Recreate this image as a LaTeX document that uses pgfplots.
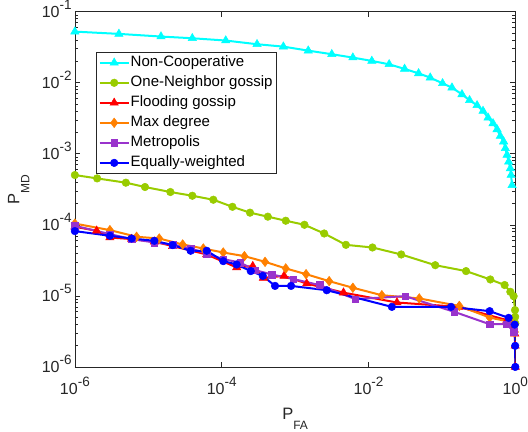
\documentclass[border=0pt]{standalone}
\usepackage{fontspec}
\setmainfont{Liberation Sans}
\usepackage{pgfplots}
\pgfplotsset{compat=1.18}
\definecolor{cNC}{rgb}{0,1,1}
\definecolor{cON}{rgb}{0.6,0.8,0.0}
\definecolor{cFL}{rgb}{1,0,0}
\definecolor{cMD}{rgb}{1,0.5,0}
\definecolor{cME}{rgb}{0.6,0.2,0.8}
\definecolor{cEW}{rgb}{0,0,1}
\definecolor{axgray}{rgb}{0.15,0.15,0.15}
\newcommand{\tl}[1]{10\raisebox{8pt}{\fontsize{13.5}{14}\selectfont #1}}
\begin{document}
\begin{tikzpicture}
\begin{axis}[
  scale only axis, width=440pt, height=355pt,
  xmode=log, ymode=log, log basis x=10, log basis y=10,
  xmin=1e-6, xmax=1, ymin=1e-6, ymax=1e-1,
  xtick={1e-6,1e-4,1e-2,1},
  xticklabels={\tl{-6},\tl{-4},\tl{-2},\tl{0}},
  ytick={1e-6,1e-5,1e-4,1e-3,1e-2,1e-1},
  yticklabels={\tl{-6},\tl{-5},\tl{-4},\tl{-3},\tl{-2},\tl{-1}},
  xminorticks=false,
  minor ytick={2e-6,3e-6,4e-6,5e-6,6e-6,7e-6,8e-6,9e-6,
               2e-5,3e-5,4e-5,5e-5,6e-5,7e-5,8e-5,9e-5,
               2e-4,3e-4,4e-4,5e-4,6e-4,7e-4,8e-4,9e-4,
               2e-3,3e-3,4e-3,5e-3,6e-3,7e-3,8e-3,9e-3,
               2e-2,3e-2,4e-2,5e-2,6e-2,7e-2,8e-2,9e-2},
  tick align=inside, major tick length=5pt, minor tick length=3pt,
  axis line style={axgray, line width=0.6pt},
  every tick/.style={axgray, line width=0.5pt},
  tick label style={font=\fontsize{16}{18}\selectfont, text=axgray},
  yticklabel style={anchor=base east, inner sep=0pt, xshift=-3pt, yshift=-5.75pt},
  xticklabel style={anchor=north, inner sep=0pt, yshift=-10pt},
  xlabel={P\raisebox{-10pt}{\fontsize{12}{12}\selectfont FA}},
  ylabel={P\raisebox{-10pt}{\fontsize{12}{12}\selectfont MD}},
  label style={font=\fontsize{16.5}{18}\selectfont, text=axgray},
  xlabel style={at={([yshift=-38pt]axis description cs:0.5,0)}, anchor=north, inner sep=0pt, inner ysep=2.5pt},
  ylabel style={at={([xshift=-75pt]axis description cs:0,0.5)}, anchor=north, rotate=0, inner sep=0pt, inner ysep=8pt},
  legend style={at={(0.0477,0.887)}, anchor=north west, draw=axgray, line width=0.6pt,
    font=\fontsize{15}{16}\selectfont, cells={anchor=west},
    nodes={inner sep=1pt, text height=11pt, text depth=3.5pt},
    inner sep=2.5pt, row sep=3.5pt, column sep=0pt},
  legend image code/.code={\draw[mark repeat=2,mark phase=2,#1] plot coordinates {(0pt,0pt) (14.5pt,0pt) (29pt,0pt)};},
  every axis plot/.append style={line width=2pt},
]
% Non-Cooperative
\addplot[color=cNC, mark=triangle*, mark size=4.8pt, mark options={solid, line width=0.5pt}] coordinates {
(1e-6,0.0522) (3.98e-6,0.0485) (1.49e-5,0.0445) (3.98e-5,0.0421) (1.135e-4,0.0391)
(3.03e-4,0.0347) (6.92e-4,0.0321) (1.51e-3,0.0282) (3.16e-3,0.0251) (6.12e-3,0.0225)
(0.0111,0.0202) (0.0191,0.0181) (0.031,0.0156) (0.0481,0.0135) (0.0693,0.01175)
(0.102,0.00977) (0.137,0.00851) (0.1875,0.00684) (0.238,0.00564) (0.301,0.00479)
(0.363,0.00399) (0.425,0.00321) (0.497,0.00267) (0.564,0.0022) (0.624,0.00177)
(0.693,0.00148) (0.731,0.00119) (0.771,9.6e-4) (0.811,7.7e-4) (0.855,6.2e-4)
(0.875,5.0e-4) (0.902,3.6e-4)
};
\addlegendentry{Non-Cooperative}
% One-Neighbor gossip
\addplot[color=cON, mark=*, mark size=3.8pt, mark options={line width=0.5pt}] coordinates {
(1e-6,5.01e-4) (2.01e-6,4.49e-4) (4.95e-6,3.91e-4) (9.02e-6,3.40e-4) (2.0e-5,2.89e-4)
(3.98e-5,2.56e-4) (7.69e-5,2.25e-4) (1.40e-4,1.79e-4) (2.43e-4,1.48e-4) (4.25e-4,1.30e-4)
(7.46e-4,1.14e-4) (1.34e-3,1.0e-4) (2.49e-3,7.54e-5) (4.92e-3,5.22e-5) (0.01132,4.79e-5)
(0.0279,3.82e-5) (0.0811,2.70e-5) (0.213,2.23e-5) (0.456,1.70e-5) (0.715,1.42e-5)
(0.855,1.14e-5) (0.948,9.9e-6) (0.99,6.3e-6) (0.995,5.06e-6) (0.998,4.1e-6)
};
\addlegendentry{One-Neighbor gossip}
% Flooding gossip
\addplot[color=cFL, mark=triangle*, mark size=4.8pt, mark options={line width=0.5pt}] coordinates {
(1e-6,9.38e-5) (1.98e-6,8.23e-5) (3.0e-6,6.62e-5) (5.93e-6,6.29e-5) (1.21e-5,5.77e-5)
(2.15e-5,5.01e-5) (6.25e-5,3.82e-5) (1.60e-4,2.51e-5) (2.65e-4,2.62e-5) (3.70e-4,1.79e-5)
(7.08e-4,1.91e-5) (1.44e-3,1.49e-5) (4.56e-3,1.11e-5) (0.0244,8.06e-6) (0.169,7.0e-6)
(0.771,4.55e-6) (0.98,2.94e-6) (0.995,1.98e-6) (0.999,1.0e-6)
};
\addlegendentry{Flooding gossip}
% Max degree
\addplot[color=cMD, mark=diamond*, mark size=4.8pt, mark options={line width=0.5pt}] coordinates {
(1e-6,1.04e-4) (3.0e-6,8.41e-5) (6.93e-6,6.78e-5) (1.41e-5,6.41e-5) (2.94e-5,5.28e-5)
(5.62e-5,4.64e-5) (1.05e-4,4.07e-5) (2.04e-4,3.62e-5) (3.90e-4,3.01e-5) (7.46e-4,2.43e-5)
(1.41e-3,2.02e-5) (2.91e-3,1.61e-5) (6.12e-3,1.30e-5) (0.0152,1.02e-5) (0.0491,9.2e-6)
(0.173,7.2e-6) (0.447,4.95e-6) (0.855,4.3e-6) (0.985,3.1e-6)
};
\addlegendentry{Max degree}
% Metropolis
\addplot[color=cME, mark=square*, mark size=3.3pt, mark options={line width=0.5pt}] coordinates {
(1e-6,9.68e-5) (3.0e-6,7.39e-5) (5.93e-6,6.29e-5) (1.21e-5,5.64e-5) (2.15e-5,5.28e-5)
(3.78e-5,4.64e-5) (6.25e-5,3.94e-5) (1.05e-4,3.29e-5) (1.78e-4,2.94e-5) (2.85e-4,2.30e-5)
(4.81e-4,2.0e-5) (9.48e-4,1.72e-5) (2.15e-3,1.42e-5) (6.58e-3,9.0e-6) (0.0316,9.9e-6)
(0.147,5.96e-6) (0.447,3.99e-6) (0.771,3.99e-6) (0.948,3.11e-6)
};
\addlegendentry{Metropolis}
% Equally-weighted
\addplot[color=cEW, mark=*, mark size=3.8pt, mark options={line width=0.5pt}] coordinates {
(1e-6,8.15e-5) (3.0e-6,7.0e-5) (5.93e-6,6.41e-5) (1.21e-5,5.95e-5) (2.15e-5,5.18e-5)
(3.78e-5,4.31e-5) (6.25e-5,4.31e-5) (1.05e-4,3.08e-5) (1.60e-4,2.76e-5) (2.49e-4,2.23e-5)
(3.63e-4,1.91e-5) (5.33e-4,1.38e-5) (8.81e-4,1.38e-5) (2.70e-3,1.20e-5) (0.0208,7.0e-6)
(0.133,7.0e-6) (0.447,6.09e-6) (0.811,4.9e-6) (0.98,3.94e-6) (0.995,1.98e-6) (0.999,1.0e-6)
};
\addlegendentry{Equally-weighted}
\end{axis}
\end{tikzpicture}
\end{document}
